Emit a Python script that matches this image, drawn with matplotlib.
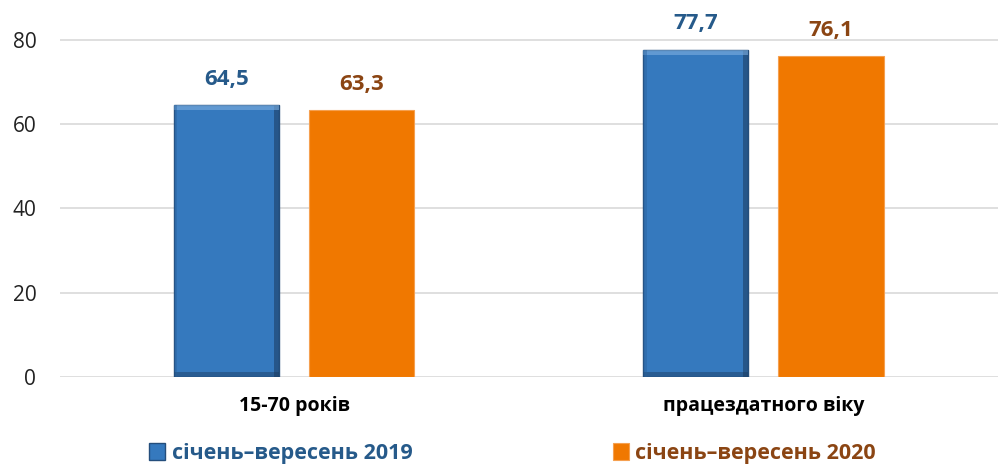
import matplotlib.pyplot as plt
from matplotlib.patches import Rectangle
import numpy as np

plt.rcParams['font.family'] = ['Open Sans', 'DejaVu Sans']

categories = ['15-70 років', 'працездатного віку']
series_names = ['січень–вересень 2019', 'січень–вересень 2020']
values_2019 = [64.5, 77.7]
values_2020 = [63.3, 76.1]
labels_2019 = ['64,5', '77,7']
labels_2020 = ['63,3', '76,1']

bar_colors = ['#3579be', '#f07800']
text_colors = ['#265a8a', '#8b4513']

fig = plt.figure(figsize=(9.98, 4.67), dpi=100)
ax = fig.add_axes([0.06, 0.193, 0.94, 0.807])

x = np.arange(len(categories))
w = 0.224
off = 0.144
b1 = ax.bar(x - off, values_2019, w, color=bar_colors[0], edgecolor='#244e7c', linewidth=1.0, zorder=3,
            label=series_names[0])
b2 = ax.bar(x + off, values_2020, w, color=bar_colors[1], edgecolor='#f5a050', linewidth=0.8, zorder=3,
            label=series_names[1])

# bevel shading on the blue bars
for r in b1:
    x0, wd, h = r.get_x(), r.get_width(), r.get_height()
    dx = wd * 0.05
    dy = 1.2
    ax.add_patch(Rectangle((x0 + wd - dx, 0), dx, h, color='#1b3a5e', alpha=0.55, zorder=4, lw=0))
    ax.add_patch(Rectangle((x0, 0), wd, dy, color='#1b3a5e', alpha=0.45, zorder=4, lw=0))
    ax.add_patch(Rectangle((x0, h - dy), wd, dy, color='#7fb0e0', alpha=0.6, zorder=4, lw=0))
    ax.add_patch(Rectangle((x0, 0), dx * 0.6, h, color='#2a5f96', alpha=0.4, zorder=4, lw=0))

for bars, labs, c in [(b1, labels_2019, text_colors[0]), (b2, labels_2020, text_colors[1])]:
    for r, lab in zip(bars, labs):
        ax.annotate(lab, (r.get_x() + r.get_width() / 2, r.get_height()), xytext=(0, 11),
                    textcoords='offset points', ha='center', va='bottom',
                    fontsize=16, fontweight='bold', color=c)

ax.set_xlim(-0.5, 1.5)
ax.set_ylim(0, 89.5)
ax.set_yticks([0, 20, 40, 60, 80])
ax.set_xticks(x)
ax.set_xticklabels(categories, fontsize=14, fontweight='bold')
ax.tick_params(axis='y', length=0, labelsize=15, pad=17, colors='#222222')
ax.tick_params(axis='x', length=0, pad=14)
ax.grid(axis='y', color='#d9d9d9', linewidth=1.2, zorder=0)
for s in ax.spines.values():
    s.set_visible(False)

leg = fig.legend(handles=[b1, b2], loc='lower center', bbox_to_anchor=(0.5135, -0.035), ncol=2,
                 frameon=False, handlelength=0.75, handleheight=0.8,
                 handletextpad=0.3, columnspacing=9.3,
                 prop={'family': ['Open Sans', 'DejaVu Sans'], 'weight': 'bold', 'size': 15.5})
for t, c in zip(leg.get_texts(), text_colors):
    t.set_color(c)

fig.savefig('out.png', dpi=100)
